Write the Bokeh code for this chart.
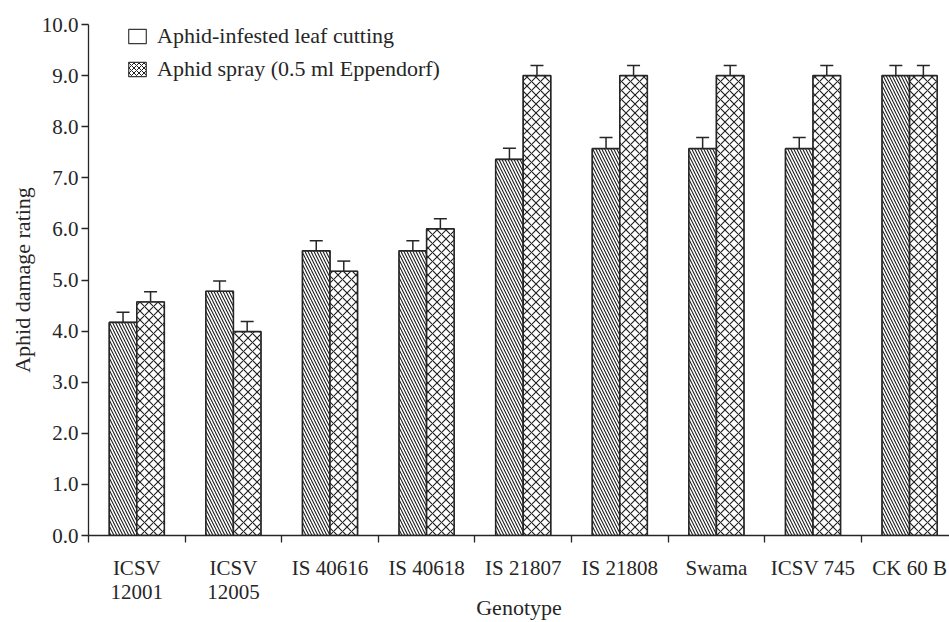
from bokeh.plotting import figure
from bokeh.models import (ColumnDataSource, FixedTicker, NumeralTickFormatter, Whisker,
                          TeeHead, Legend, LegendItem, Range1d)
from bokeh.embed import file_html
from bokeh.resources import INLINE

# ---- data ----
genotypes = ["ICSV\n12001", "ICSV\n12005", "IS 40616", "IS 40618", "IS 21807",
             "IS 21808", "Swama", "ICSV 745", "CK 60 B"]
leaf_cutting = [4.17, 4.78, 5.57, 5.57, 7.36, 7.57, 7.57, 7.57, 9.0]
leaf_cutting_err = [0.2, 0.2, 0.2, 0.2, 0.22, 0.22, 0.22, 0.22, 0.2]
aphid_spray = [4.57, 3.99, 5.17, 6.0, 9.0, 9.0, 9.0, 9.0, 9.0]
aphid_spray_err = [0.2, 0.2, 0.2, 0.2, 0.2, 0.2, 0.2, 0.2, 0.2]
y_ticks = [0, 1, 2, 3, 4, 5, 6, 7, 8, 9, 10]
series_names = ["Aphid-infested leaf cutting", "Aphid spray (0.5 ml Eppendorf)"]

FONT = "Liberation Serif"
INK = "#262626"
BAR_W = 0.285
OFF = BAR_W / 2

n = len(genotypes)
centers = [i + 0.5 for i in range(n)]
bounds = [i for i in range(n + 1)]

src = ColumnDataSource(dict(
    x_leaf=[c - OFF for c in centers],
    x_spray=[c + OFF for c in centers],
    leaf=leaf_cutting,
    spray=aphid_spray,
    leaf_lo=[v - e for v, e in zip(leaf_cutting, leaf_cutting_err)],
    leaf_hi=[v + e for v, e in zip(leaf_cutting, leaf_cutting_err)],
    spray_lo=[v - e for v, e in zip(aphid_spray, aphid_spray_err)],
    spray_hi=[v + e for v, e in zip(aphid_spray, aphid_spray_err)],
))

p = figure(width=949, height=622, x_range=Range1d(0, 8.913), y_range=Range1d(0, 10),
           output_backend="svg", toolbar_location=None,
           min_border_left=88, min_border_right=0, min_border_top=24, min_border_bottom=87)
p.xgrid.visible = False
p.ygrid.visible = False
p.outline_line_color = None

# white backing bars (also serve as the legend swatches)
back_leaf = p.vbar(x="x_leaf", top="leaf", width=BAR_W, source=src, fill_color="white",
                   line_color="#3a3a3a", line_width=1.2)
back_spray = p.vbar(x="x_spray", top="spray", width=BAR_W, source=src, fill_color="white",
                    line_color="#3a3a3a", line_width=1.2, hatch_pattern="x", hatch_scale=5,
                    hatch_color="#1e1e1e", hatch_weight=1)

bar_common = dict(width=BAR_W, source=src, fill_color="white", line_color=INK,
                  line_width=1.6, hatch_color="#1e1e1e", hatch_weight=1.1)
p.vbar(x="x_leaf", top="leaf", hatch_pattern="\\", hatch_scale=6, **bar_common)
p.vbar(x="x_spray", top="spray", hatch_pattern="x", hatch_scale=9, **bar_common)

for base, lo, hi in (("x_leaf", "leaf_lo", "leaf_hi"), ("x_spray", "spray_lo", "spray_hi")):
    w = Whisker(source=src, base=base, lower=lo, upper=hi, line_color=INK, line_width=1.5,
                upper_head=TeeHead(size=13, line_color=INK, line_width=1.5),
                lower_head=TeeHead(size=13, line_color=INK, line_width=1.5))
    p.add_layout(w)

legend = Legend(items=[LegendItem(label=series_names[0], renderers=[back_leaf]),
                       LegendItem(label=series_names[1], renderers=[back_spray])],
                location=(38, 453), margin=0, padding=0, spacing=7,
                glyph_width=22, glyph_height=18, label_height=24, label_standoff=9,
                label_text_font=FONT, label_text_font_size="22px", label_text_color=INK,
                border_line_color=None, background_fill_alpha=0)
p.add_layout(legend)

# x axis
p.xaxis.ticker = FixedTicker(ticks=centers, minor_ticks=bounds)
p.xaxis.major_label_overrides = {c: g for c, g in zip(centers, genotypes)}
p.xaxis.major_tick_out = 0
p.xaxis.major_tick_in = 0
p.xaxis.minor_tick_out = 7
p.xaxis.minor_tick_in = 0
p.xaxis.minor_tick_line_color = INK
p.xaxis.minor_tick_line_width = 1.3
p.xaxis.major_label_standoff = 13
p.xaxis.major_label_text_line_height = 1.0
p.xaxis.axis_label = "Genotype"
p.xaxis.axis_label_standoff = -12
p.xaxis.axis_label_text_line_height = 1.0

# y axis
p.yaxis.ticker = FixedTicker(ticks=y_ticks, minor_ticks=[])
p.yaxis.formatter = NumeralTickFormatter(format="0.0")
p.yaxis.major_tick_out = 7
p.yaxis.major_tick_in = 0
p.yaxis.major_label_standoff = 3
p.yaxis.axis_label = "Aphid damage rating"
p.yaxis.axis_label_standoff = 4

for ax in (p.xaxis, p.yaxis):
    ax.axis_line_color = INK
    ax.axis_line_width = 1.3
    ax.major_tick_line_color = INK
    ax.major_tick_line_width = 1.3
    ax.major_label_text_font = FONT
    ax.major_label_text_font_size = "21px"
    ax.major_label_text_color = INK
    ax.axis_label_text_font = FONT
    ax.axis_label_text_font_size = "22px"
    ax.axis_label_text_font_style = "normal"
    ax.axis_label_text_color = INK

open("out.html", "w").write(file_html(p, INLINE))
